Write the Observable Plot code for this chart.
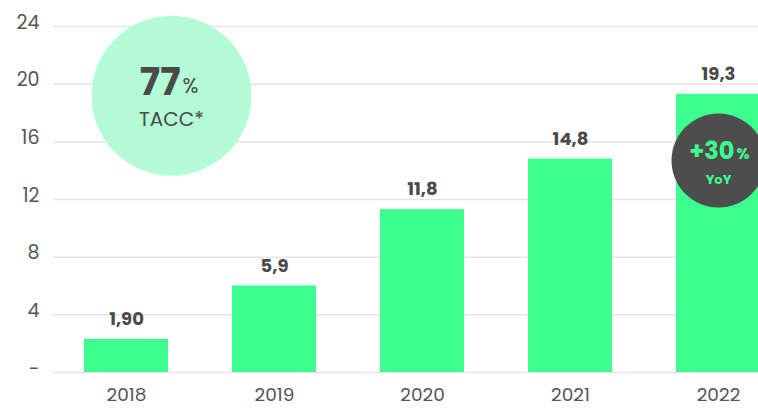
<!DOCTYPE html>
<html><head><meta charset="utf-8">
<script src="https://cdn.jsdelivr.net/npm/d3@7"></script>
<script src="https://cdn.jsdelivr.net/npm/@observablehq/plot@0.6"></script>
<style>
html,body{margin:0;padding:0;background:#fff;overflow:hidden}
svg{font-family:Poppins,"Open Sans",Inter,sans-serif}
</style>
</head><body><div id="chart"></div>
<script>
const years = ["2018", "2019", "2020", "2021", "2022"];
const values = [2.3, 6.0, 11.3, 14.8, 19.3];
const valueLabels = ["1,90", "5,9", "11,8", "14,8", "19,3"];
const yTicks = [0, 4, 8, 12, 16, 20, 24];
const yTickLabels = ["-", "4", "8", "12", "16", "20", "24"];
const badges = [
  {year: "2018", value: 19.2, big: "77", small: "%", sub: "TACC*"},
  {year: "2022", value: 14.7, big: "+30", small: "%", sub: "YoY"}
];

const bars = years.map((y, i) => ({year: y, value: values[i], label: valueLabels[i]}));
const green = "#3cff8f";
const ink = "#4a4a4a";

const chart = Plot.plot({
  width: 758,
  height: 408,
  marginLeft: 53,
  marginRight: 0,
  marginTop: 26,
  marginBottom: 36,
  x: {type: "band", domain: years, range: [53, 791], paddingInner: 0.432, paddingOuter: 0.209, label: null},
  y: {domain: [0, 24], label: null},
  style: {fontFamily: 'Poppins,"Open Sans",Inter,sans-serif', color: ink, background: "#fff", overflow: "hidden"},
  marks: [
    Plot.gridY(yTicks, {stroke: "#e6e6e6", strokeOpacity: 1, strokeWidth: 1.5}),
    Plot.axisY(yTicks, {tickSize: 0, tickPadding: 14, dy: -4, fontSize: 19, fill: "#555",
      tickFormat: (d) => yTickLabels[yTicks.indexOf(d)]}),
    Plot.axisX({tickSize: 0, tickPadding: 15, fontSize: 18.5, fill: "#555"}),
    Plot.barY(bars, {x: "year", y: "value", fill: green}),
    Plot.text(bars, {x: "year", y: "value", text: "label", dy: -20, fontSize: 18, fontWeight: 700, fill: ink}),
    // TACC badge
    Plot.dot([badges[0]], {x: "year", y: "value", r: 80, fill: "#b3fcd5", stroke: null, dx: 45}),
    Plot.text([badges[0]], {x: "year", y: "value", text: "big", dx: 54, dy: -13, textAnchor: "end", fontSize: 38, fontWeight: 700, fill: ink}),
    Plot.text([badges[0]], {x: "year", y: "value", text: "small", dx: 56, dy: -9, textAnchor: "start", fontSize: 21, fill: ink}),
    Plot.text([badges[0]], {x: "year", y: "value", text: "sub", dx: 45, dy: 24, fontSize: 20, fill: ink}),
    // YoY badge
    Plot.dot([badges[1]], {x: "year", y: "value", r: 47, fill: "#4d4d4d", stroke: null}),
    Plot.text([badges[1]], {x: "year", y: "value", text: "big", dx: 16, dy: -9, textAnchor: "end", fontSize: 24, fontWeight: 700, fill: green}),
    Plot.text([badges[1]], {x: "year", y: "value", text: "small", dx: 18, dy: -6, textAnchor: "start", fontSize: 15, fontWeight: 700, fill: green}),
    Plot.text([badges[1]], {x: "year", y: "value", text: "sub", dx: 0, dy: 19, fontSize: 13, fontWeight: 700, fill: green})
  ]
});
document.getElementById("chart").appendChild(chart);
</script>
</body></html>
